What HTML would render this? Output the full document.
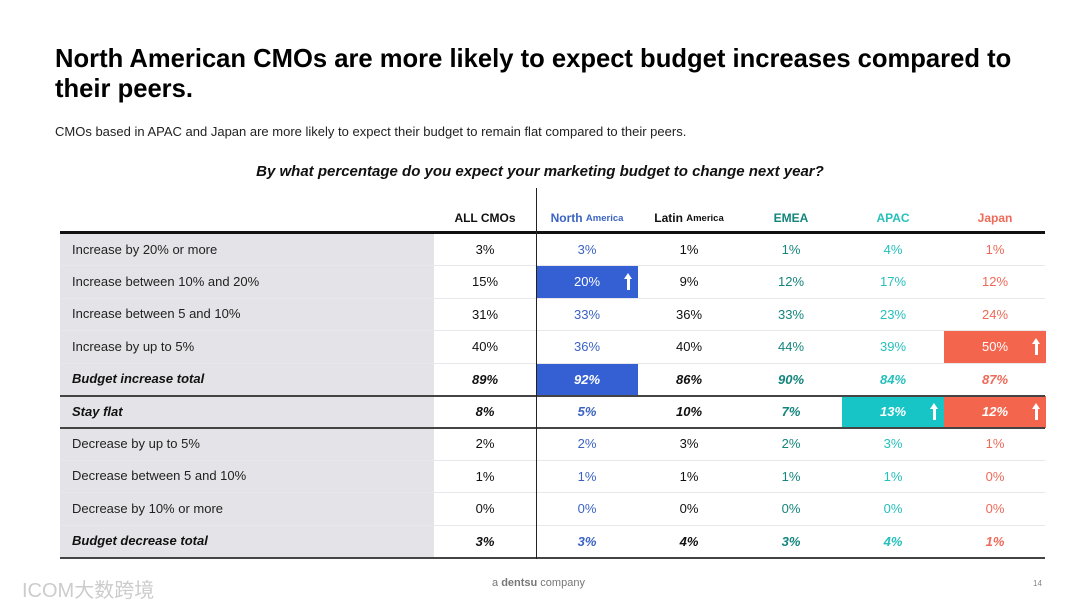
<!DOCTYPE html>
<html><head><meta charset="utf-8">
<style>
body{margin:0;width:1080px;height:608px;background:#fff;font-family:"Liberation Sans",sans-serif;position:relative;overflow:hidden;color:#111}
.abs{position:absolute}
.cell{position:absolute;height:32px;display:flex;align-items:center;justify-content:center;font-size:13px}
.lab{position:absolute;left:72px;height:32px;display:flex;align-items:center;font-size:13px;color:#222}
.arrow{position:absolute;right:8px;top:10px;width:3px;height:14px;background:#fff}
.arrow:before{content:"";position:absolute;left:-3px;top:-3px;border-left:4.5px solid transparent;border-right:4.5px solid transparent;border-bottom:6px solid #fff}
</style></head><body>
<div class="abs" style="left:55px;top:44px;font-size:25.6px;font-weight:bold;line-height:30px;width:1000px;color:#000">North American CMOs are more likely to expect budget increases compared to their peers.</div>
<div class="abs" style="left:55px;top:124px;font-size:13px;color:#222">CMOs based in APAC and Japan are more likely to expect their budget to remain flat compared to their peers.</div>
<div class="abs" style="left:0;width:1080px;text-align:center;top:163px;font-size:15px;font-weight:bold;font-style:italic;color:#111">By what percentage do you expect your marketing budget to change next year?</div>
<div class="abs" style="left:60px;top:233px;width:374px;height:324px;background:#e4e4e8"></div>
<div id="tbl"></div>
<div class="abs" style="left:22px;top:574px;font-size:20px;color:#ccc;font-family:'Liberation Sans','Noto Sans CJK SC',sans-serif">ICOM大数跨境</div>
<div class="abs" style="left:492px;top:577px;font-size:11px;color:#777">a <b>dentsu</b> company</div>
<div class="abs" style="left:1033px;top:579px;font-size:8px;color:#888">14</div>
<script>
const columns=["ALL CMOs","North America","Latin America","EMEA","APAC","Japan"];
const rowLabels=["Increase by 20% or more","Increase between 10% and 20%","Increase between 5 and 10%","Increase by up to 5%","Budget increase total","Stay flat","Decrease by up to 5%","Decrease between 5 and 10%","Decrease by 10% or more","Budget decrease total"];
const allCMOs=[3,15,31,40,89,8,2,1,0,3];
const northAmerica=[3,20,33,36,92,5,2,1,0,3];
const latinAmerica=[1,9,36,40,86,10,3,1,0,4];
const emea=[1,12,33,44,90,7,2,1,0,3];
const apac=[4,17,23,39,84,13,3,1,0,4];
const japan=[1,12,24,50,87,12,1,0,0,1];
const highlights=[[1,1,true],[1,4,false],[4,5,true],[5,3,true],[5,5,true]];
const boldRows=[4,5,9];
const series=[allCMOs,northAmerica,latinAmerica,emea,apac,japan];
const colColors=["#111","#3b63c4","#111","#14857c","#26c0bc","#ee6a58"];
const hiColors=["#111","#3560d4","#111","#14857c","#17c4c6","#f4654e"];
const T=document.getElementById('tbl');
const colX=i=>434+i*102, rowY=i=>233+i*32.4;
function mk(cls,css,txt){const d=document.createElement('div');d.className=cls;d.style.cssText=css;if(txt!==undefined)d.textContent=txt;T.appendChild(d);return d;}
columns.forEach((c,i)=>{
 const d=mk('cell',`left:${colX(i)}px;width:102px;top:202px;font-weight:bold;font-size:12px;color:${colColors[i]}`);
 
 
 const p=c.split(' ');
 d.innerHTML=p.length>1&&c!=="ALL CMOs"?p[0]+'&nbsp;<span style="font-size:9.5px">'+p[1]+'</span>':c;
});
rowLabels.forEach((l,r)=>{
 const b=boldRows.includes(r);
 const d=mk('lab',`top:${rowY(r)}px;${b?'font-weight:bold;font-style:italic;color:#111':''}`,l);
 
 
 series.forEach((s,c)=>{
  const h=highlights.find(x=>x[0]==c&&x[1]==r);
  const e=mk('cell',`left:${colX(c)}px;width:102px;top:${rowY(r)+0.5}px;color:${h?'#fff':colColors[c]};${h?'background:'+hiColors[c]+';':''}${b?'font-weight:bold;font-style:italic;':''}`,s[r]+'%');
  
  
  if(h&&h[2]){const a=document.createElement('div');a.className='arrow';e.appendChild(a);
   
   }
 });
 if(r>0){const ln=mk('abs',`left:60px;width:985px;top:${rowY(r)}px;height:${(r==5||r==6)?2:1}px;background:${(r==5||r==6)?'#444':'#e8e8ec'}`);
  
  }
});
const headerRule=mk('abs',`left:60px;width:985px;top:231px;height:2.5px;background:#111`);


const bottomRule=mk('abs',`left:60px;width:985px;top:${rowY(10)}px;height:2px;background:#444`);


const vDiv=mk('abs',`left:536px;width:1px;top:188px;height:${rowY(10)-188+2}px;background:#222`);


</script>
</body></html>
